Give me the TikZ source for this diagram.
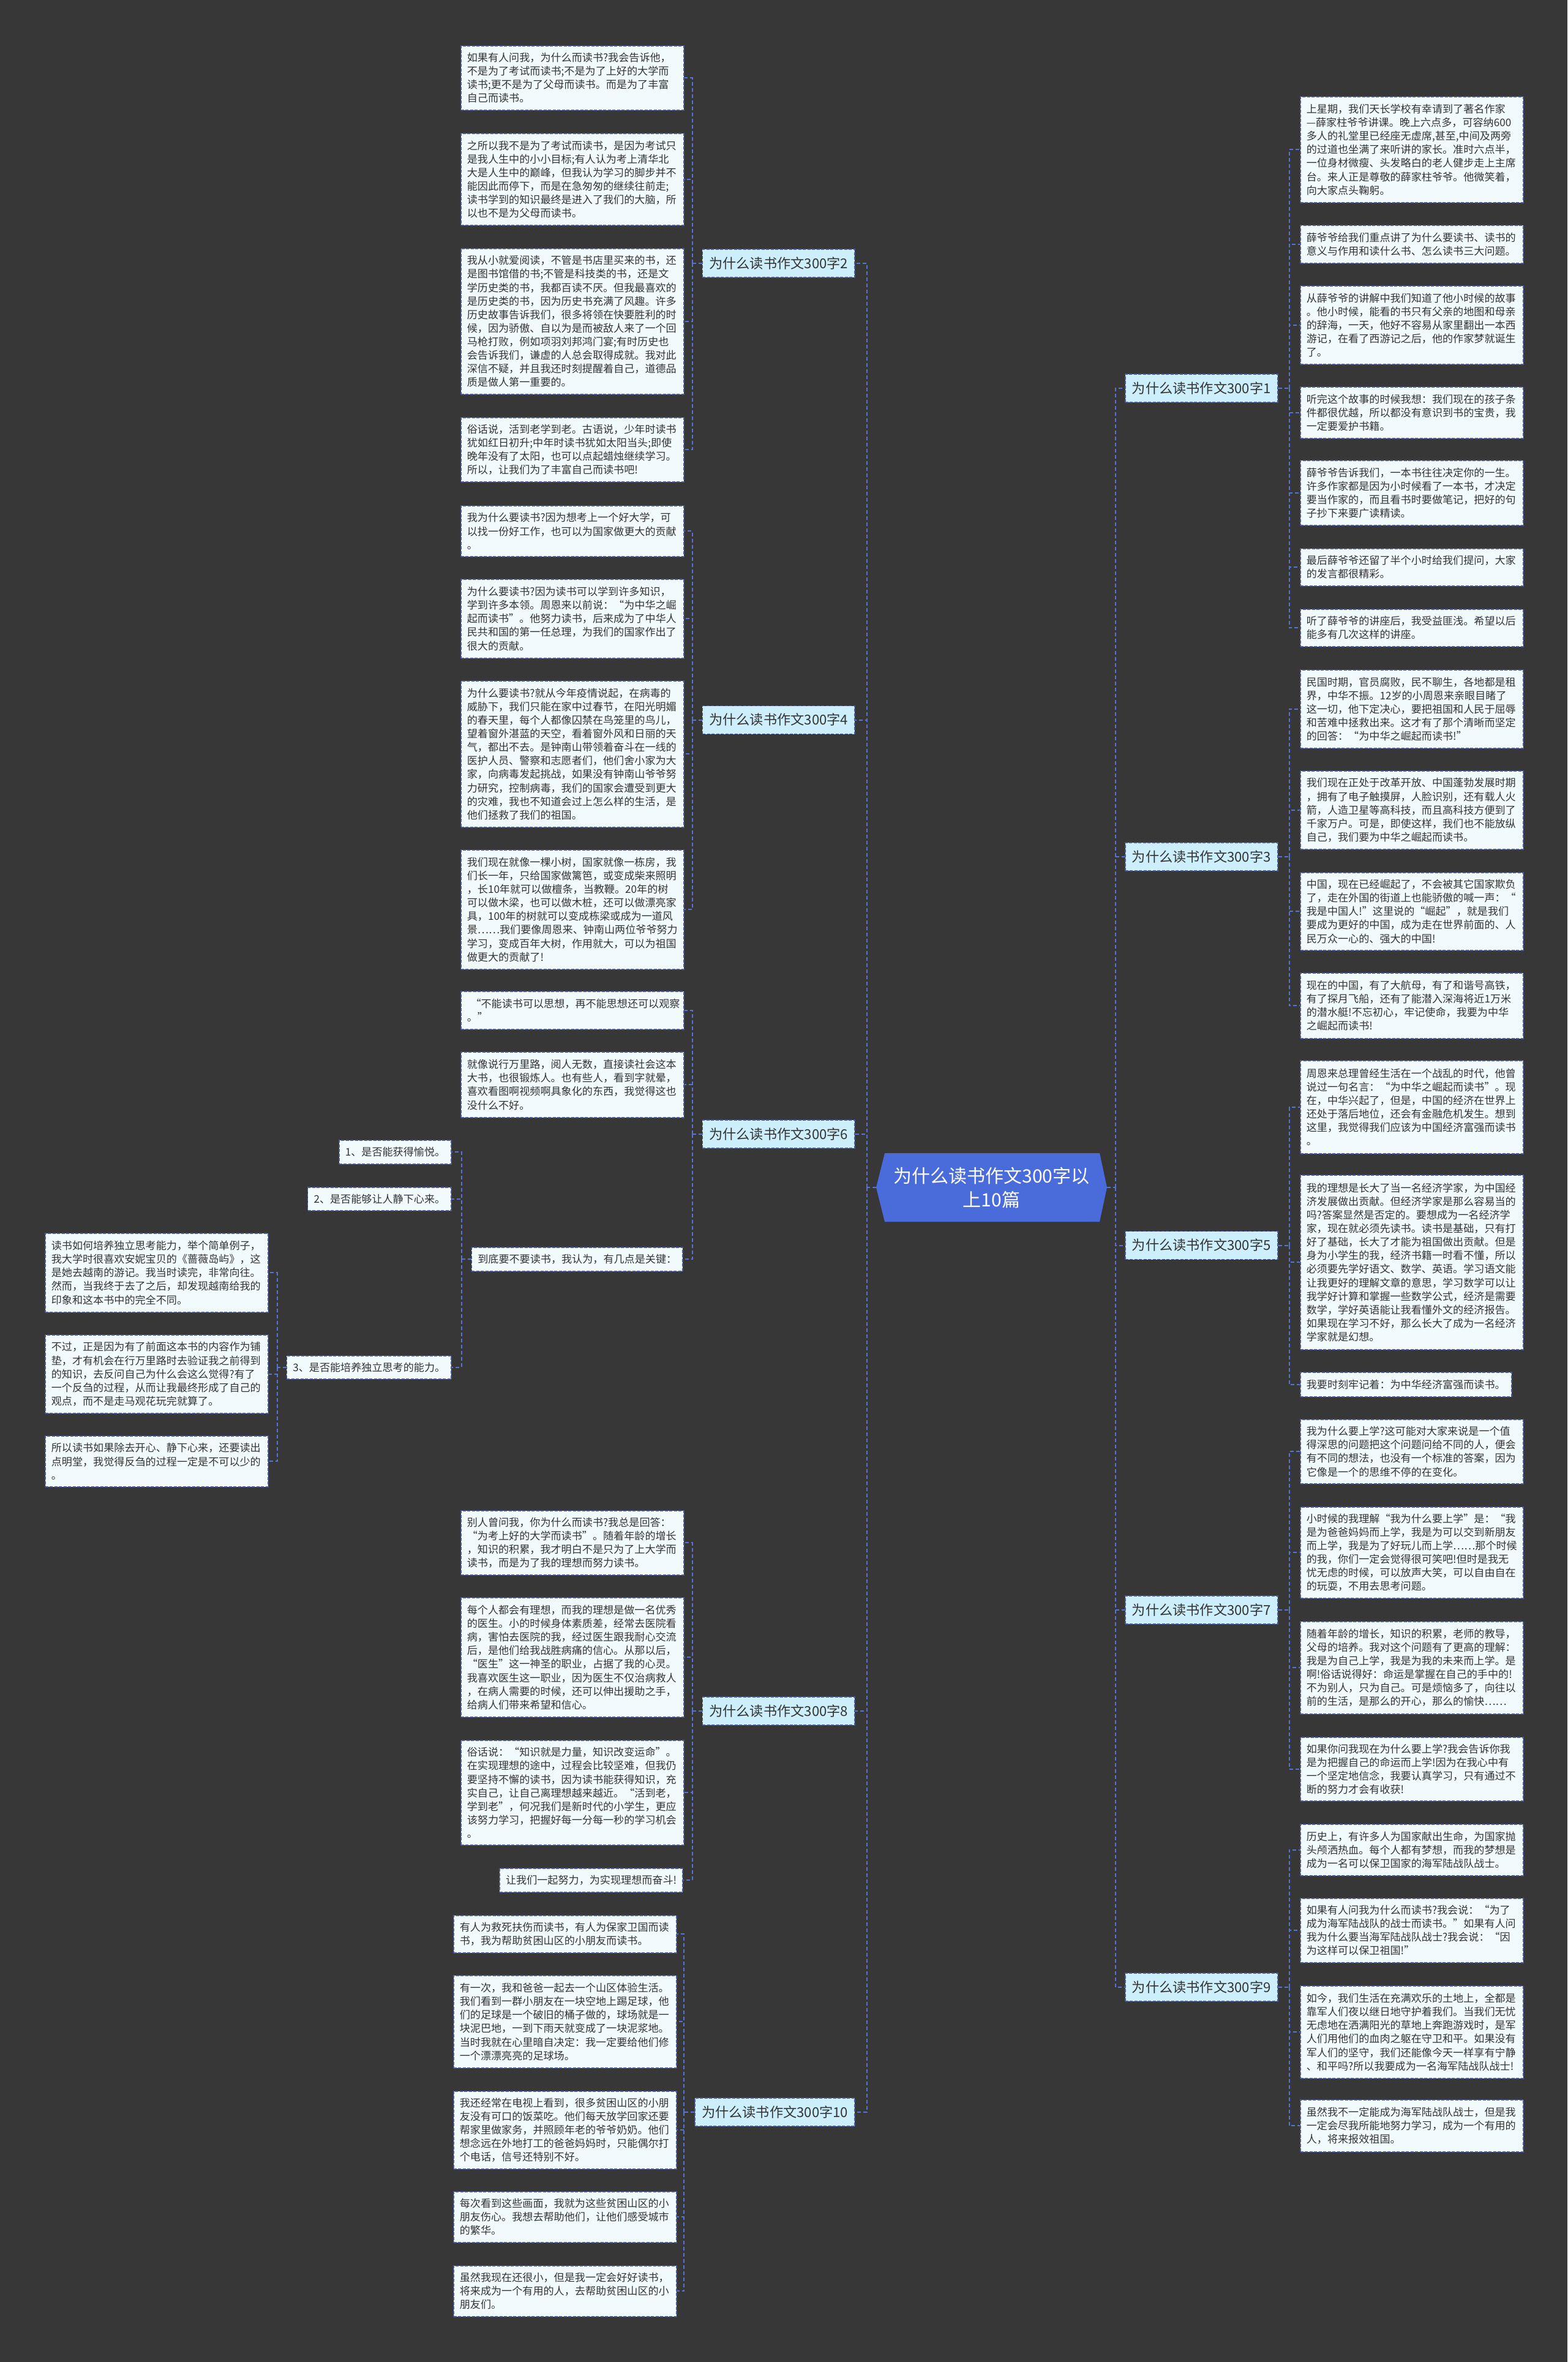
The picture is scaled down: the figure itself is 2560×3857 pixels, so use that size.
\documentclass[tikz,border=0pt]{standalone}
\usepackage{fontspec}
\newfontfamily\cjk{Noto Sans CJK SC}
\usepackage{tikz}

\definecolor{bgc}{HTML}{373737}
\definecolor{leaffill}{HTML}{F1FAFD}
\definecolor{leafline}{HTML}{4B5A9C}
\definecolor{labfill}{HTML}{CCEFFB}
\definecolor{ctrblue}{HTML}{4A6BDA}
\definecolor{linkc}{HTML}{5574D4}
\definecolor{txt}{HTML}{333333}

\begin{document}
\begin{tikzpicture}[x=1pt,y=-1pt,
  leaf/.style={draw=leafline,fill=leaffill,dash pattern=on 5pt off 2.5pt,line width=1.6pt,text=txt,
    font=\cjk\fontsize{17.1pt}{22.1pt}\selectfont,inner xsep=10pt,inner ysep=0pt,align=left},
  longleaf/.style={leaf,text width=344pt},
  branch/.style={draw=leafline,fill=labfill,dash pattern=on 5pt off 2.5pt,line width=1.6pt,text=txt,
    font=\cjk\fontsize{22.2pt}{26pt}\selectfont,inner xsep=11pt,inner ysep=0pt,minimum height=46pt},
  link/.style={draw=linkc,line width=2pt,dash pattern=on 6pt off 4pt}]

  % background
  \useasboundingbox (0,0) rectangle (2560,3857);
  \fill[bgc] (0,0) rectangle (2560,3857);

  % centre
  \fill[ctrblue] (1445,1883) -- (1796,1883) -- (1808,1939) -- (1796,1995) -- (1445,1995) -- (1431,1939) -- cycle;
  \node[text=white,font=\cjk\fontsize{30pt}{39pt}\selectfont,align=center,minimum width=377pt,inner sep=0pt] (ctr) at (1619.5,1939) {为什么读书作文300字以\\上10篇};

  % branches, left
  \node[branch,anchor=east] (br2) at (1397,430) {为什么读书作文300字2};
  \node[branch,anchor=east] (br4) at (1397,1175.5) {为什么读书作文300字4};
  \node[branch,anchor=east] (br6) at (1397,1852) {为什么读书作文300字6};
  \node[branch,anchor=east] (br8) at (1397,2794) {为什么读书作文300字8};
  \node[branch,anchor=east] (br10) at (1397,3449) {为什么读书作文300字10};

  % branches, right
  \node[branch,anchor=west] (br1) at (1837,634) {为什么读书作文300字1};
  \node[branch,anchor=west] (br3) at (1837,1399) {为什么读书作文300字3};
  \node[branch,anchor=west] (br5) at (1837,2033.5) {为什么读书作文300字5};
  \node[branch,anchor=west] (br7) at (1837,2629) {为什么读书作文300字7};
  \node[branch,anchor=west] (br9) at (1837,3245) {为什么读书作文300字9};

  % essay 2
  \node[longleaf,anchor=north west,minimum height=105pt] (n2a) at (752,74) {如果有人问我，为什么而读书?我会告诉他，\\
不是为了考试而读书;不是为了上好的大学而\\
读书;更不是为了父母而读书。而是为了丰富\\
自己而读书。};
  \node[longleaf,anchor=north west,minimum height=150pt] (n2b) at (752,217) {之所以我不是为了考试而读书，是因为考试只\\
是我人生中的小小目标;有人认为考上清华北\\
大是人生中的巅峰，但我认为学习的脚步并不\\
能因此而停下，而是在急匆匆的继续往前走;\\
读书学到的知识最终是进入了我们的大脑，所\\
以也不是为父母而读书。};
  \node[longleaf,anchor=north west,minimum height=238pt] (n2c) at (752,405) {我从小就爱阅读，不管是书店里买来的书，还\\
是图书馆借的书;不管是科技类的书，还是文\\
学历史类的书，我都百读不厌。但我最喜欢的\\
是历史类的书，因为历史书充满了风趣。许多\\
历史故事告诉我们，很多将领在快要胜利的时\\
候，因为骄傲、自以为是而被敌人来了一个回\\
马枪打败，例如项羽刘邦鸿门宴;有时历史也\\
会告诉我们，谦虚的人总会取得成就。我对此\\
深信不疑，并且我还时刻提醒着自己，道德品\\
质是做人第一重要的。};
  \node[longleaf,anchor=north west,minimum height=105pt] (n2d) at (752,681) {俗话说，活到老学到老。古语说，少年时读书\\
犹如红日初升;中年时读书犹如太阳当头;即使\\
晚年没有了太阳，也可以点起蜡烛继续学习。\\
所以，让我们为了丰富自己而读书吧!};

  % essay 4
  \node[longleaf,anchor=north west,minimum height=83pt] (n4a) at (752,825) {我为什么要读书?因为想考上一个好大学，可\\
以找一份好工作，也可以为国家做更大的贡献\\
。};
  \node[longleaf,anchor=north west,minimum height=129pt] (n4b) at (752,945) {为什么要读书?因为读书可以学到许多知识，\\
学到许多本领。周恩来以前说：“为中华之崛\\
起而读书”。他努力读书，后来成为了中华人\\
民共和国的第一任总理，为我们的国家作出了\\
很大的贡献。};
  \node[longleaf,anchor=north west,minimum height=239pt] (n4c) at (752,1111) {为什么要读书?就从今年疫情说起，在病毒的\\
威胁下，我们只能在家中过春节，在阳光明媚\\
的春天里，每个人都像囚禁在鸟笼里的鸟儿，\\
望着窗外湛蓝的天空，看着窗外风和日丽的天\\
气，都出不去。是钟南山带领着奋斗在一线的\\
医护人员、警察和志愿者们，他们舍小家为大\\
家，向病毒发起挑战，如果没有钟南山爷爷努\\
力研究，控制病毒，我们的国家会遭受到更大\\
的灾难，我也不知道会过上怎么样的生活，是\\
他们拯救了我们的祖国。};
  \node[longleaf,anchor=north west,minimum height=195pt] (n4d) at (752,1387) {我们现在就像一棵小树，国家就像一栋房，我\\
们长一年，只给国家做篱笆，或变成柴来照明\\
，长10年就可以做檀条，当教鞭。20年的树\\
可以做木梁，也可以做木桩，还可以做漂亮家\\
具，100年的树就可以变成栋梁或成为一道风\\
景……我们要像周恩来、钟南山两位爷爷努力\\
学习，变成百年大树，作用就大，可以为祖国\\
做更大的贡献了!};

  % essay 6
  \node[longleaf,anchor=north west,minimum height=62pt] (n6a) at (752,1618) {\ “不能读书可以思想，再不能思想还可以观察\\
。”};
  \node[longleaf,anchor=north west,minimum height=107pt] (n6b) at (752,1717) {就像说行万里路，阅人无数，直接读社会这本\\
大书，也很锻炼人。也有些人，看到字就晕，\\
喜欢看图啊视频啊具象化的东西，我觉得这也\\
没什么不好。};
  \node[leaf,anchor=north east,minimum height=39pt] (n6c) at (1116,2036) {到底要不要读书，我认为，有几点是关键：};
  \node[leaf,anchor=north east,minimum height=39pt] (n6c1) at (738,1861) {1、是否能获得愉悦。};
  \node[leaf,anchor=north east,minimum height=38pt] (n6c2) at (738,1938) {2、是否能够让人静下心来。};
  \node[leaf,anchor=north east,minimum height=38pt] (n6c3) at (738,2213) {3、是否能培养独立思考的能力。};
  \node[longleaf,anchor=north west,minimum height=129pt] (n6c3a) at (73,2013) {读书如何培养独立思考能力，举个简单例子，\\
我大学时很喜欢安妮宝贝的《蔷薇岛屿》，这\\
是她去越南的游记。我当时读完，非常向往。\\
然而，当我终于去了之后，却发现越南给我的\\
印象和这本书中的完全不同。};
  \node[longleaf,anchor=north west,minimum height=128pt] (n6c3b) at (73,2179) {不过，正是因为有了前面这本书的内容作为铺\\
垫，才有机会在行万里路时去验证我之前得到\\
的知识，去反问自己为什么会这么觉得?有了\\
一个反刍的过程，从而让我最终形成了自己的\\
观点，而不是走马观花玩完就算了。};
  \node[longleaf,anchor=north west,minimum height=83pt] (n6c3c) at (73,2344) {所以读书如果除去开心、静下心来，还要读出\\
点明堂，我觉得反刍的过程一定是不可以少的\\
。};

  % essay 8
  \node[longleaf,anchor=north west,minimum height=105pt] (n8a) at (752,2466) {别人曾问我，你为什么而读书?我总是回答：\\
“为考上好的大学而读书”。随着年龄的增长\\
，知识的积累，我才明白不是只为了上大学而\\
读书，而是为了我的理想而努力读书。};
  \node[longleaf,anchor=north west,minimum height=195pt] (n8b) at (752,2608) {每个人都会有理想，而我的理想是做一名优秀\\
的医生。小的时候身体素质差，经常去医院看\\
病，害怕去医院的我，经过医生跟我耐心交流\\
后，是他们给我战胜病痛的信心。从那以后，\\
“医生”这一神圣的职业，占据了我的心灵。\\
我喜欢医生这一职业，因为医生不仅治病救人\\
，在病人需要的时候，还可以伸出援助之手，\\
给病人们带来希望和信心。};
  \node[longleaf,anchor=north west,minimum height=171pt] (n8c) at (752,2841) {俗话说：“知识就是力量，知识改变运命”。\\
在实现理想的途中，过程会比较坚难，但我仍\\
要坚持不懈的读书，因为读书能获得知识，充\\
实自己，让自己离理想越来越近。“活到老，\\
学到老”，何况我们是新时代的小学生，更应\\
该努力学习，把握好每一分每一秒的学习机会\\
。};
  \node[leaf,anchor=north east,minimum height=39pt] (n8d) at (1116,3050) {让我们一起努力，为实现理想而奋斗!};

  % essay 10
  \node[longleaf,anchor=north west,minimum height=61pt] (n10a) at (740,3127) {有人为救死扶伤而读书，有人为保家卫国而读\\
书，我为帮助贫困山区的小朋友而读书。};
  \node[longleaf,anchor=north west,minimum height=151pt] (n10b) at (740,3225) {有一次，我和爸爸一起去一个山区体验生活。\\
我们看到一群小朋友在一块空地上踢足球，他\\
们的足球是一个破旧的桶子做的，球场就是一\\
块泥巴地，一到下雨天就变成了一块泥浆地。\\
当时我就在心里暗自决定：我一定要给他们修\\
一个漂漂亮亮的足球场。};
  \node[longleaf,anchor=north west,minimum height=127pt] (n10c) at (740,3414) {我还经常在电视上看到，很多贫困山区的小朋\\
友没有可口的饭菜吃。他们每天放学回家还要\\
帮家里做家务，并照顾年老的爷爷奶奶。他们\\
想念远在外地打工的爸爸妈妈时，只能偶尔打\\
个电话，信号还特别不好。};
  \node[longleaf,anchor=north west,minimum height=83pt] (n10d) at (740,3578) {每次看到这些画面，我就为这些贫困山区的小\\
朋友伤心。我想去帮助他们，让他们感受城市\\
的繁华。};
  \node[longleaf,anchor=north west,minimum height=83pt] (n10e) at (740,3699) {虽然我现在还很小，但是我一定会好好读书，\\
将来成为一个有用的人，去帮助贫困山区的小\\
朋友们。};

  % essay 1
  \node[longleaf,anchor=north west,minimum height=173pt] (n1a) at (2123,157) {上星期，我们天长学校有幸请到了著名作家\\
—薛家柱爷爷讲课。晚上六点多，可容纳600\\
多人的礼堂里已经座无虚席,甚至,中间及两旁\\
的过道也坐满了来听讲的家长。准时六点半，\\
一位身材微瘦、头发略白的老人健步走上主席\\
台。来人正是尊敬的薛家柱爷爷。他微笑着，\\
向大家点头鞠躬。};
  \node[longleaf,anchor=north west,minimum height=62pt] (n1b) at (2123,367) {薛爷爷给我们重点讲了为什么要读书、读书的\\
意义与作用和读什么书、怎么读书三大问题。};
  \node[longleaf,anchor=north west,minimum height=128pt] (n1c) at (2123,466) {从薛爷爷的讲解中我们知道了他小时候的故事\\
。他小时候，能看的书只有父亲的地图和母亲\\
的辞海，一天，他好不容易从家里翻出一本西\\
游记，在看了西游记之后，他的作家梦就诞生\\
了。};
  \node[longleaf,anchor=north west,minimum height=84pt] (n1d) at (2123,631) {听完这个故事的时候我想：我们现在的孩子条\\
件都很优越，所以都没有意识到书的宝贵，我\\
一定要爱护书籍。};
  \node[longleaf,anchor=north west,minimum height=106pt] (n1e) at (2123,751) {薛爷爷告诉我们，一本书往往决定你的一生。\\
许多作家都是因为小时候看了一本书，才决定\\
要当作家的，而且看书时要做笔记，把好的句\\
子抄下来要广读精读。};
  \node[longleaf,anchor=north west,minimum height=61pt] (n1f) at (2123,895) {最后薛爷爷还留了半个小时给我们提问，大家\\
的发言都很精彩。};
  \node[longleaf,anchor=north west,minimum height=61pt] (n1g) at (2123,994) {听了薛爷爷的讲座后，我受益匪浅。希望以后\\
能多有几次这样的讲座。};

  % essay 3
  \node[longleaf,anchor=north west,minimum height=128pt] (n3a) at (2123,1093) {民国时期，官员腐败，民不聊生，各地都是租\\
界，中华不振。12岁的小周恩来亲眼目睹了\\
这一切，他下定决心，要把祖国和人民于屈辱\\
和苦难中拯救出来。这才有了那个清晰而坚定\\
的回答：“为中华之崛起而读书!”};
  \node[longleaf,anchor=north west,minimum height=128pt] (n3b) at (2123,1258) {我们现在正处于改革开放、中国蓬勃发展时期\\
，拥有了电子触摸屏，人脸识别，还有载人火\\
箭，人造卫星等高科技，而且高科技方便到了\\
千家万户。可是，即使这样，我们也不能放纵\\
自己，我们要为中华之崛起而读书。};
  \node[longleaf,anchor=north west,minimum height=127pt] (n3c) at (2123,1424) {中国，现在已经崛起了，不会被其它国家欺负\\
了，走在外国的街道上也能骄傲的喊一声：“\\
我是中国人!”这里说的“崛起”，就是我们\\
要成为更好的中国，成为走在世界前面的、人\\
民万众一心的、强大的中国!};
  \node[longleaf,anchor=north west,minimum height=107pt] (n3d) at (2123,1588) {现在的中国，有了大航母，有了和谐号高铁，\\
有了探月飞船，还有了能潜入深海将近1万米\\
的潜水艇!不忘初心，牢记使命，我要为中华\\
之崛起而读书!};

  % essay 5
  \node[longleaf,anchor=north west,minimum height=152pt] (n5a) at (2123,1731) {周恩来总理曾经生活在一个战乱的时代，他曾\\
说过一句名言：“为中华之崛起而读书”。现\\
在，中华兴起了，但是，中国的经济在世界上\\
还处于落后地位，还会有金融危机发生。想到\\
这里，我觉得我们应该为中国经济富强而读书\\
。};
  \node[longleaf,anchor=north west,minimum height=285pt] (n5b) at (2123,1918) {我的理想是长大了当一名经济学家，为中国经\\
济发展做出贡献。但经济学家是那么容易当的\\
吗?答案显然是否定的。要想成为一名经济学\\
家，现在就必须先读书。读书是基础，只有打\\
好了基础，长大了才能为祖国做出贡献。但是\\
身为小学生的我，经济书籍一时看不懂，所以\\
必须要先学好语文、数学、英语。学习语文能\\
让我更好的理解文章的意思，学习数学可以让\\
我学好计算和掌握一些数学公式，经济是需要\\
数学，学好英语能让我看懂外文的经济报告。\\
如果现在学习不好，那么长大了成为一名经济\\
学家就是幻想。};
  \node[leaf,anchor=north west,minimum height=40pt] (n5c) at (2123,2240) {我要时刻牢记着：为中华经济富强而读书。};

  % essay 7
  \node[longleaf,anchor=north west,minimum height=105pt] (n7a) at (2123,2317) {我为什么要上学?这可能对大家来说是一个值\\
得深思的问题把这个问题问给不同的人，便会\\
有不同的想法，也没有一个标准的答案，因为\\
它像是一个的思维不停的在变化。};
  \node[longleaf,anchor=north west,minimum height=149pt] (n7b) at (2123,2460) {小时候的我理解“我为什么要上学”是：“我\\
是为爸爸妈妈而上学，我是为可以交到新朋友\\
而上学，我是为了好玩儿而上学……那个时候\\
的我，你们一定会觉得很可笑吧!但时是我无\\
忧无虑的时候，可以放声大笑，可以自由自在\\
的玩耍，不用去思考问题。};
  \node[longleaf,anchor=north west,minimum height=151pt] (n7c) at (2123,2647) {随着年龄的增长，知识的积累，老师的教导，\\
父母的培养。我对这个问题有了更高的理解：\\
我是为自己上学，我是为我的未来而上学。是\\
啊!俗话说得好：命运是掌握在自己的手中的!\\
不为别人，只为自己。可是烦恼多了，向往以\\
前的生活，是那么的开心，那么的愉快……};
  \node[longleaf,anchor=north west,minimum height=104pt] (n7d) at (2123,2836) {如果你问我现在为什么要上学?我会告诉你我\\
是为把握自己的命运而上学!因为在我心中有\\
一个坚定地信念，我要认真学习，只有通过不\\
断的努力才会有收获!};

  % essay 9
  \node[longleaf,anchor=north west,minimum height=84pt] (n9a) at (2123,2978) {历史上，有许多人为国家献出生命，为国家抛\\
头颅洒热血。每个人都有梦想，而我的梦想是\\
成为一名可以保卫国家的海军陆战队战士。};
  \node[longleaf,anchor=north west,minimum height=105pt] (n9b) at (2123,3099) {如果有人问我为什么而读书?我会说：“为了\\
成为海军陆战队的战士而读书。”如果有人问\\
我为什么要当海军陆战队战士?我会说：“因\\
为这样可以保卫祖国!”};
  \node[longleaf,anchor=north west,minimum height=151pt] (n9c) at (2123,3242) {如今，我们生活在充满欢乐的土地上，全都是\\
靠军人们夜以继日地守护着我们。当我们无忧\\
无虑地在洒满阳光的草地上奔跑游戏时，是军\\
人们用他们的血肉之躯在守卫和平。如果没有\\
军人们的坚守，我们还能像今天一样享有宁静\\
、和平吗?所以我要成为一名海军陆战队战士!};
  \node[longleaf,anchor=north west,minimum height=85pt] (n9d) at (2123,3428) {虽然我不一定能成为海军陆战队战士，但是我\\
一定会尽我所能地努力学习，成为一个有用的\\
人，将来报效祖国。};

  % links from the centre
  \coordinate (cl) at ([xshift=-15pt]ctr.west);
  \coordinate (cr) at ([xshift=14pt]ctr.east);
  \draw[link] (ctr.west) -- (cl);
  \draw[link] (ctr.east) -- (cr);
  \draw[link] (cl) |- (br2.east);
  \draw[link] (cl) |- (br4.east);
  \draw[link] (cl) |- (br6.east);
  \draw[link] (cl) |- (br8.east);
  \draw[link] (cl) |- (br10.east);
  \draw[link] (cr) |- (br1.west);
  \draw[link] (cr) |- (br3.west);
  \draw[link] (cr) |- (br5.west);
  \draw[link] (cr) |- (br7.west);
  \draw[link] (cr) |- (br9.west);

  % links, left side
  \coordinate (t2) at ([xshift=-16pt]br2.west);
  \draw[link] (br2.west) -- (t2);
  \draw[link] (t2) |- (n2a.east);
  \draw[link] (t2) |- (n2b.east);
  \draw[link] (t2) |- (n2c.east);
  \draw[link] (t2) |- (n2d.east);

  \coordinate (t4) at ([xshift=-16pt]br4.west);
  \draw[link] (br4.west) -- (t4);
  \draw[link] (t4) |- (n4a.east);
  \draw[link] (t4) |- (n4b.east);
  \draw[link] (t4) |- (n4c.east);
  \draw[link] (t4) |- (n4d.east);

  \coordinate (t6) at ([xshift=-16pt]br6.west);
  \draw[link] (br6.west) -- (t6);
  \draw[link] (t6) |- (n6a.east);
  \draw[link] (t6) |- (n6b.east);
  \draw[link] (t6) |- (n6c.east);

  \coordinate (t6c) at ([xshift=-16pt]n6c.west);
  \draw[link] (n6c.west) -- (t6c);
  \draw[link] (t6c) |- (n6c1.east);
  \draw[link] (t6c) |- (n6c2.east);
  \draw[link] (t6c) |- (n6c3.east);

  \coordinate (t6c3) at ([xshift=-15pt]n6c3.west);
  \draw[link] (n6c3.west) -- (t6c3);
  \draw[link] (t6c3) |- (n6c3a.east);
  \draw[link] (t6c3) |- (n6c3b.east);
  \draw[link] (t6c3) |- (n6c3c.east);

  \coordinate (t8) at ([xshift=-16pt]br8.west);
  \draw[link] (br8.west) -- (t8);
  \draw[link] (t8) |- (n8a.east);
  \draw[link] (t8) |- (n8b.east);
  \draw[link] (t8) |- (n8c.east);
  \draw[link] (t8) |- (n8d.east);

  \coordinate (t10) at ([xshift=-17pt]br10.west);
  \draw[link] (br10.west) -- (t10);
  \draw[link] (t10) |- (n10a.east);
  \draw[link] (t10) |- (n10b.east);
  \draw[link] (t10) |- (n10c.east);
  \draw[link] (t10) |- (n10d.east);
  \draw[link] (t10) |- (n10e.east);

  % links, right side
  \coordinate (t1) at ([xshift=18pt]br1.east);
  \draw[link] (br1.east) -- (t1);
  \draw[link] (t1) |- (n1a.west);
  \draw[link] (t1) |- (n1b.west);
  \draw[link] (t1) |- (n1c.west);
  \draw[link] (t1) |- (n1d.west);
  \draw[link] (t1) |- (n1e.west);
  \draw[link] (t1) |- (n1f.west);
  \draw[link] (t1) |- (n1g.west);

  \coordinate (t3) at ([xshift=18pt]br3.east);
  \draw[link] (br3.east) -- (t3);
  \draw[link] (t3) |- (n3a.west);
  \draw[link] (t3) |- (n3b.west);
  \draw[link] (t3) |- (n3c.west);
  \draw[link] (t3) |- (n3d.west);

  \coordinate (t5) at ([xshift=18pt]br5.east);
  \draw[link] (br5.east) -- (t5);
  \draw[link] (t5) |- (n5a.west);
  \draw[link] (t5) |- (n5b.west);
  \draw[link] (t5) |- (n5c.west);

  \coordinate (t7) at ([xshift=18pt]br7.east);
  \draw[link] (br7.east) -- (t7);
  \draw[link] (t7) |- (n7a.west);
  \draw[link] (t7) |- (n7b.west);
  \draw[link] (t7) |- (n7c.west);
  \draw[link] (t7) |- (n7d.west);

  \coordinate (t9) at ([xshift=18pt]br9.east);
  \draw[link] (br9.east) -- (t9);
  \draw[link] (t9) |- (n9a.west);
  \draw[link] (t9) |- (n9b.west);
  \draw[link] (t9) |- (n9c.west);
  \draw[link] (t9) |- (n9d.west);
\end{tikzpicture}
\end{document}
